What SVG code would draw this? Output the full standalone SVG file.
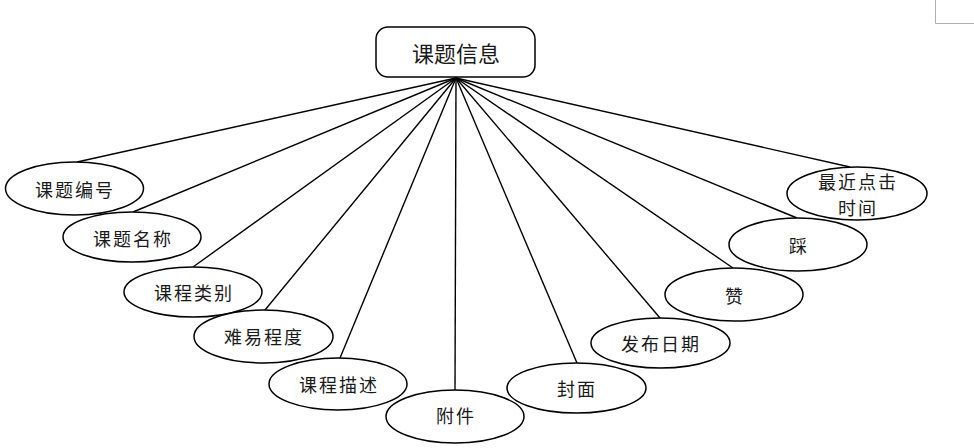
<svg xmlns="http://www.w3.org/2000/svg" width="974" height="448" viewBox="0 0 974 448">
<style>
.e{fill:#fff;stroke:#000;stroke-width:1.5}
.t{font-family:"Noto Sans CJK SC","Noto Sans",sans-serif;font-size:18px;fill:#1a1a1a;text-anchor:middle;dominant-baseline:central;letter-spacing:2px}
.c line{stroke:#000;stroke-width:1.4}
</style>
<rect width="974" height="448" fill="#fff"/>
<path d="M935.5 0V23.5H974" fill="none" stroke="#b0b0b0" stroke-width="1"/>
<g class="c" id="connectors">
<line x1="456" y1="78" x2="77" y2="162"/>
<line x1="456" y1="78" x2="133" y2="212"/>
<line x1="456" y1="78" x2="193" y2="267"/>
<line x1="456" y1="78" x2="265" y2="310"/>
<line x1="456" y1="78" x2="340" y2="358"/>
<line x1="456" y1="78" x2="455" y2="390"/>
<line x1="456" y1="78" x2="577" y2="363"/>
<line x1="456" y1="78" x2="660" y2="318"/>
<line x1="456" y1="78" x2="733" y2="268"/>
<line x1="456" y1="78" x2="797" y2="218"/>
<line x1="456" y1="78" x2="850" y2="167"/>
</g>
<g id="root">
<rect x="376" y="27" width="159" height="50" rx="12" fill="#fff" stroke="#000" stroke-width="1.5"/>
<text x="456" y="52" class="t" style="font-size:22px;letter-spacing:0">课题信息</text>
</g>
<g id="n1"><ellipse class="e" cx="74.5" cy="188.5" rx="69" ry="26.5"/><text class="t" x="75" y="189">课题编号</text></g>
<g id="n2"><ellipse class="e" cx="132" cy="237" rx="69" ry="25"/><text class="t" x="133" y="238">课题名称</text></g>
<g id="n3"><ellipse class="e" cx="193" cy="292" rx="69" ry="25"/><text class="t" x="194" y="292">课程类别</text></g>
<g id="n4"><ellipse class="e" cx="263.5" cy="336.5" rx="69.5" ry="26.5"/><text class="t" x="264" y="336">难易程度</text></g>
<g id="n5"><ellipse class="e" cx="338" cy="384" rx="69" ry="26"/><text class="t" x="339" y="384">课程描述</text></g>
<g id="n6"><ellipse class="e" cx="455" cy="416.5" rx="69" ry="26.5"/><text class="t" x="456" y="415">附件</text></g>
<g id="n7"><ellipse class="e" cx="576.5" cy="388" rx="69.5" ry="25"/><text class="t" x="577" y="388">封面</text></g>
<g id="n8"><ellipse class="e" cx="660.5" cy="343" rx="69.5" ry="25"/><text class="t" x="661" y="343">发布日期</text></g>
<g id="n9"><ellipse class="e" cx="734" cy="294.5" rx="69" ry="26.5"/><text class="t" x="735" y="295">赞</text></g>
<g id="n10"><ellipse class="e" cx="798" cy="244.5" rx="69" ry="26.5"/><text class="t" x="799" y="245">踩</text></g>
<g id="n11"><ellipse class="e" cx="857" cy="193.5" rx="70" ry="26.5"/><text class="t" x="858" y="180.5">最近点击</text><text class="t" x="858" y="206.5">时间</text></g>
</svg>
